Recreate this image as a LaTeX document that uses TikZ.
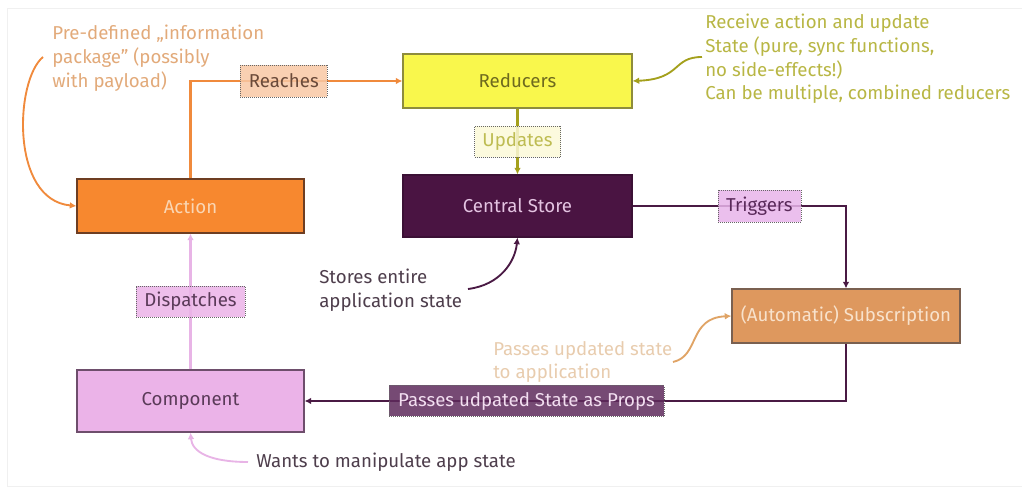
\documentclass[tikz,border=0pt]{standalone}
\usepackage{fontspec}
\setmainfont{Fira Sans}
\usetikzlibrary{arrows.meta}

\definecolor{actfill}{HTML}{F7882F}
\definecolor{actdraw}{HTML}{6E3E22}
\definecolor{acttext}{HTML}{FAD6B4}
\definecolor{redfill}{HTML}{F9F74C}
\definecolor{reddraw}{HTML}{8E8C3C}
\definecolor{redtext}{HTML}{6E6A1E}
\definecolor{storefill}{HTML}{4A1442}
\definecolor{storetext}{HTML}{E4C4E2}
\definecolor{subfill}{HTML}{DE985E}
\definecolor{subdraw}{HTML}{7A6050}
\definecolor{subtext}{HTML}{F8E2CC}
\definecolor{compfill}{HTML}{EBB3E8}
\definecolor{compdraw}{HTML}{6E4E6C}
\definecolor{comptext}{HTML}{5A3A58}
\definecolor{orangeline}{HTML}{F08A3C}
\definecolor{oliveline}{HTML}{A4A01C}
\definecolor{purpleline}{HTML}{4A1A44}
\definecolor{pinkline}{HTML}{E8B4E6}
\definecolor{tanline}{HTML}{E0A466}
\definecolor{reachfill}{HTML}{F8C8A4}
\definecolor{reachtext}{HTML}{6A4A3A}
\definecolor{updfill}{HTML}{FBF9D8}
\definecolor{updtext}{HTML}{BEBC52}
\definecolor{trigfill}{HTML}{E8B4EA}
\definecolor{trigtext}{HTML}{5A2A5A}
\definecolor{propsfill}{HTML}{5E2A5C}
\definecolor{propstext}{HTML}{F2DEF0}
\definecolor{noteorange}{HTML}{E2AA7A}
\definecolor{noteolive}{HTML}{B8B644}
\definecolor{notedark}{HTML}{4E3E4C}
\definecolor{notetan}{HTML}{E8CCAE}
\definecolor{framecol}{HTML}{F0F0F0}

\tikzset{
  txt/.style={font=\fontsize{14}{17.7}\selectfont},
  box/.style={txt, draw, line width=0.8pt, inner sep=0pt, align=center},
  tag/.style={txt, draw=black!60, densely dotted, line width=0.5pt, inner sep=0pt,
              fill opacity=0.85, text opacity=1},
  note/.style={txt, inner sep=0pt, anchor=north west, align=left},
  conn/.style={line width=1.6pt, -{Latex[length=5pt,width=5pt]}},
  curvy/.style={line width=1.4pt, -{Latex[length=5pt,width=5pt]}},
}

\begin{document}
\begin{tikzpicture}[x=0.75pt,y=-0.75pt]
\useasboundingbox (0,0) rectangle (1022,488);
\draw[framecol, line width=0.6pt] (1022,8) -- (7,8) -- (7,486) -- (1022,486);

% main blocks
\node[box, fill=actfill, draw=actdraw, text=acttext, minimum width=170.25pt, minimum height=40.5pt] (action) at (190.5,206) {Action};
\node[box, fill=redfill, draw=reddraw, text=redtext, minimum width=171.75pt, minimum height=40.5pt] (reducers) at (517.5,81) {Reducers};
\node[box, fill=storefill, draw=storefill!80!black, text=storetext, minimum width=171.75pt, minimum height=46.5pt] (store) at (517.5,206) {Central Store};
\node[box, fill=subfill, draw=subdraw, text=subtext, minimum width=171pt, minimum height=40.5pt] (sub) at (846,316) {(Automatic) Subscription};
\node[box, fill=compfill, draw=compdraw, text=comptext, minimum width=170.25pt, minimum height=46.5pt] (comp) at (190.5,401) {Component};

% flow connectors with their labels
\draw[conn, orangeline] (action.north) |- (reducers.west)
  node[tag, pos=0.72, fill=reachfill, text=reachtext, minimum width=65.25pt, minimum height=24pt] (reaches) {Reaches};
\draw[conn, oliveline] (reducers.south) -- (store.north)
  node[tag, midway, fill=updfill, text=updtext, minimum width=64.5pt, minimum height=23.25pt] (updates) {Updates};
\draw[conn, purpleline] (store.east) -| (sub.north)
  node[tag, pos=0.297, fill=trigfill, text=trigtext, minimum width=62.25pt, minimum height=24pt] (triggers) {Triggers};
\draw[conn, purpleline] (sub.south) |- (comp.east)
  node[tag, pos=0.795, fill=propsfill, text=propstext, minimum width=206.25pt, minimum height=23.25pt] (props) {Passes udpated State as Props};
\draw[conn, pinkline] (comp.north) -- (action.south)
  node[tag, midway, fill=compfill, text=comptext, minimum width=81.75pt, minimum height=23.25pt] (dispatches) {Dispatches};

% annotations
\node[note, text=noteorange] (noteaction) at (52,25) {Pre-defined „information\\package” (possibly\\with payload)};
\node[note, text=noteolive] (notered) at (705,14) {Receive action and update\\State (pure, sync functions,\\no side-effects!)\\Can be multiple, combined reducers};
\node[note, text=notedark] (notestore) at (319,269) {Stores entire\\application state};
\node[note, text=notetan] (notesub) at (493,341) {Passes updated state\\to application};
\node[note, text=notedark] (notecomp) at (256,453) {Wants to manipulate app state};

\coordinate (fromaction) at (43,57);
\coordinate (fromred) at (702,57);
\coordinate (fromstore) at (468,289);
\coordinate (fromsub) at (673,362);
\coordinate (fromcomp) at (248,462);

\draw[curvy, orangeline] (fromaction) .. controls (15,80) and (10,200) .. (action.west);
\draw[curvy, oliveline] (fromred) .. controls (672,57) and (682,79) .. (reducers.east);
\draw[curvy, purpleline] (fromstore) .. controls (500,285) and (515,262) .. (store.south);
\draw[curvy, tanline] (fromsub) .. controls (700,356) and (688,318) .. (sub.west);
\draw[curvy, pinkline] (fromcomp) .. controls (210,462) and (192,452) .. (comp.south);
\end{tikzpicture}
\end{document}
